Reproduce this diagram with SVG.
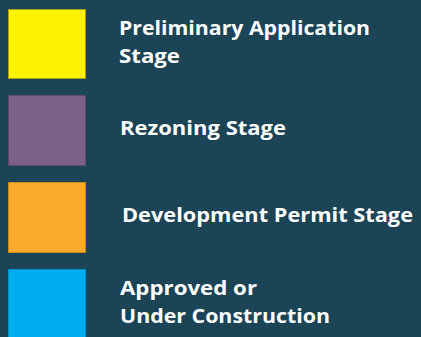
<svg xmlns="http://www.w3.org/2000/svg" width="421" height="337" viewBox="0 0 421 337">
<style>
.lbl{font-family:"Open Sans","Liberation Sans",sans-serif;font-weight:bold;font-size:20px;fill:#ffffff}
.sw{stroke-width:1}
</style>
<rect x="0" y="0" width="421" height="337" fill="#1b4456"/>
<g id="prelim">
<rect class="sw" x="8.5" y="9.5" width="77" height="69" fill="#fff200" stroke="#a8a000"/>
<text class="lbl" x="119" y="35" textLength="251" lengthAdjust="spacingAndGlyphs">Preliminary Application</text>
<text class="lbl" x="119" y="63" textLength="61" lengthAdjust="spacingAndGlyphs">Stage</text>
</g>
<g id="rezoning">
<rect class="sw" x="8.5" y="95.5" width="77" height="70" fill="#7b6186" stroke="#5f4a6c"/>
<text class="lbl" x="120" y="135" textLength="166" lengthAdjust="spacingAndGlyphs">Rezoning Stage</text>
</g>
<g id="devpermit">
<rect class="sw" x="8.5" y="182.5" width="77" height="70" fill="#fbaa2c" stroke="#c98a20"/>
<text class="lbl" x="122" y="222" textLength="291" lengthAdjust="spacingAndGlyphs">Development Permit Stage</text>
</g>
<g id="approved">
<rect class="sw" x="8.5" y="269.5" width="77" height="70" fill="#00aeef" stroke="#0090c8"/>
<text class="lbl" x="120" y="295" textLength="137" lengthAdjust="spacingAndGlyphs">Approved or</text>
<text class="lbl" x="120" y="323" textLength="210" lengthAdjust="spacingAndGlyphs">Under Construction</text>
</g>
<g id="connectors"/>
</svg>
